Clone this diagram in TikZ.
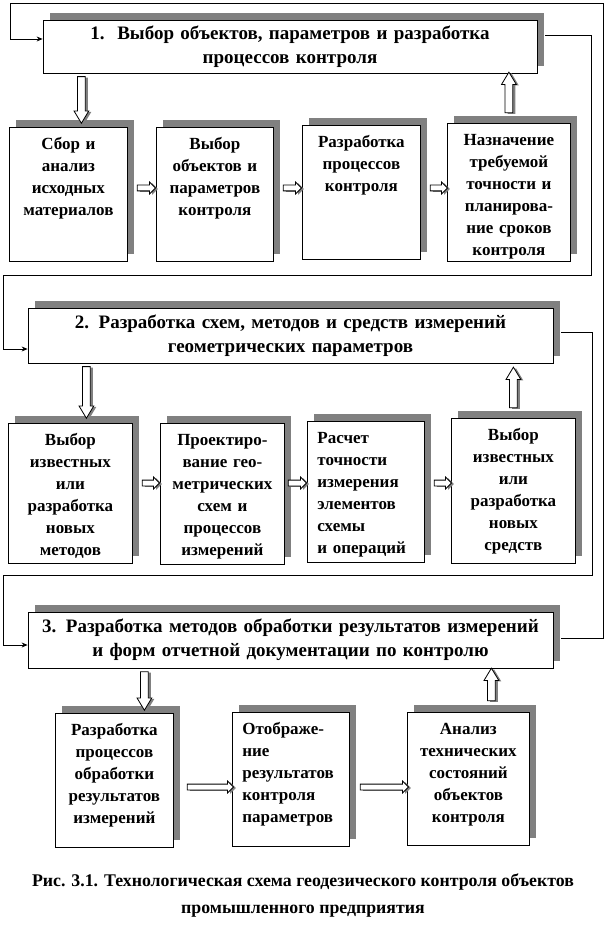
\documentclass[tikz,border=0pt]{standalone}
\usepackage{fontspec}
\setmainfont{Liberation Serif}
\usetikzlibrary{arrows.meta, calc, shadows, shapes.arrows}

% hollow block arrow between two points
\newcommand{\blockarrow}[3][]{%
  \path let \p1=(#2), \p2=(#3), \n1={veclen(\x2-\x1,\y2-\y1)} in
    (\p1) -- (\p2) node[midway, sloped, allow upside down, fatarrow, minimum height=\n1, #1] {};}

\begin{document}
\begin{tikzpicture}[
    x=1pt, y=-1pt,
    font=\fontsize{17}{22}\selectfont\bfseries,
    shade/.style={drop shadow={shadow xshift=7pt, shadow yshift=7pt, fill=black!50, opacity=1}},
    stage/.style={draw, fill=white, line width=0.8pt, shade, align=center, inner sep=4pt,
                  font=\fontsize{19}{24}\selectfont\bfseries},
    card/.style={draw, fill=white, line width=0.8pt, shade, anchor=north west,
                 align=center, inner xsep=4pt, inner ysep=9pt, text height=13pt},
    leftcard/.style={card, align=left, inner xsep=10pt},
    fatarrow/.style={single arrow, draw, fill=white, line width=0.8pt,
                     inner xsep=0pt, inner ysep=3.5pt, minimum width=0pt,
                     single arrow head extend=3.5pt, single arrow tip angle=62,
                     drop shadow={shadow xshift=2.5pt, shadow yshift=-1pt, fill=black!50, opacity=1}},
    thinarrow/.style={inner ysep=2.5pt, single arrow head extend=3pt, single arrow tip angle=90},
    link/.style={line width=0.8pt, -{Stealth[length=6pt, width=5pt]}},
    caption/.style={align=center, font=\fontsize{17.8}{27}\selectfont\bfseries}
]
\useasboundingbox (0,0) rectangle (606,925);

% Stage 1
\node[stage, text width=486pt, minimum height=53pt] (t1) at (290,46.5)
  {1.\ \ Выбор объектов, параметров и разработка\\процессов контроля};

\node[card, text width=110pt, text depth=103pt] (a1) at (9,127) {Сбор и\\анализ\\исходных\\материалов};
\node[card, text width=109pt, text depth=103pt] (b1) at (156,127) {Выбор\\объектов и\\параметров\\контроля};
\node[card, text width=110pt, text depth=103pt] (c1) at (302,125) {Разработка\\процессов\\контроля};
\node[card, text width=115pt, text depth=107pt] (d1) at (447,123) {Назначение\\требуемой\\точности и\\планирова-\\ние сроков\\контроля};

% Stage 2
\node[stage, text width=517pt, minimum height=55pt] (t2) at (290.5,335.5)
  {2. Разработка схем, методов и средств измерений\\геометрических параметров};

\node[card, text width=116pt, text depth=109pt] (a2) at (8,423) {Выбор\\известных\\или\\разработка\\новых\\методов};
\node[card, text width=116pt, text depth=110pt] (b2) at (160,423) {Проектиро-\\вание гео-\\метрических\\схем и\\процессов\\измерений};
\node[leftcard, text width=97pt, text depth=110pt] (c2) at (307,421) {Расчет\\точности\\измерения\\элементов\\схемы\\и операций};
\node[card, text width=116pt, text depth=114pt] (d2) at (451,418) {Выбор\\известных\\или\\разработка\\новых\\средств};

% Stage 3
\node[stage, text width=517pt, minimum height=56pt] (t3) at (290.5,640)
  {3. Разработка методов обработки результатов измерений\\и форм отчетной документации по контролю};

\node[card, text width=110pt, text depth=103pt] (a3) at (55,713) {Разработка\\процессов\\обработки\\результатов\\измерений};
\node[leftcard, text width=97pt, text depth=103pt] (b3) at (232,712) {Отображе-\\ние\\результатов\\контроля\\параметров};
\node[card, text width=114pt, text depth=102pt] (c3) at (407,712) {Анализ\\технических\\состояний\\объектов\\контроля};

% Caption
\node[caption] (cap) at (303,896)
  {Рис. 3.1. Технологическая схема геодезического контроля объектов\\промышленного предприятия};

% Feedback lines
\draw[link] ([xshift=8pt, yshift=11.5pt]t1.east) -- ++(46,0) |- (3,275) |- ([yshift=-13.5pt]t2.west);
\draw[link] ([xshift=8pt, yshift=3.5pt]t2.east) -- ++(31,0) |- (3,575) |- ([yshift=-5pt]t3.west);
\draw[link] ([xshift=8pt, yshift=2pt]t3.east) -- ++(42,0) |- (10,3) |- ([yshift=7.5pt]t1.west);

% Block arrows up and down
\blockarrow{[xshift=13pt]t1.south -| a1.north}{[xshift=13pt, yshift=7pt]a1.north}
\blockarrow{[yshift=7pt]d1.north}{[yshift=-2pt]t1.south -| d1.north}
\blockarrow{[xshift=16pt]t2.south -| a2.north}{[xshift=16pt, yshift=8pt]a2.north}
\blockarrow{[yshift=7pt]d2.north}{[yshift=-7pt]t2.south -| d2.north}
\blockarrow{[xshift=30pt]t3.south -| a3.north}{[xshift=30pt, yshift=6pt]a3.north}
\blockarrow{[xshift=23pt, yshift=8pt]c3.north}{[xshift=23pt, yshift=-3pt]t3.south -| c3.north}

% Arrows along the rows
\coordinate (r1) at (0,188);
\coordinate (r2) at (0,483);
\coordinate (r3) at (0,787);
\blockarrow[thinarrow]{[xshift=8pt]a1.east |- r1}{[xshift=-2pt]b1.west |- r1}
\blockarrow[thinarrow]{[xshift=8pt]b1.east |- r1}{[xshift=-2pt]c1.west |- r1}
\blockarrow[thinarrow]{[xshift=8pt]c1.east |- r1}{[xshift=-1pt]d1.west |- r1}
\blockarrow[thinarrow]{[xshift=8pt]a2.east |- r2}{[xshift=-2pt]b2.west |- r2}
\blockarrow[thinarrow]{[xshift=2pt]b2.east |- r2}{[xshift=-2pt]c2.west |- r2}
\blockarrow[thinarrow]{[xshift=8pt]c2.east |- r2}{[xshift=-1pt]d2.west |- r2}
\blockarrow[thinarrow]{[xshift=12pt]a3.east |- r3}{b3.west |- r3}
\blockarrow[thinarrow]{[xshift=9pt]b3.east |- r3}{c3.west |- r3}

\end{tikzpicture}
\end{document}
